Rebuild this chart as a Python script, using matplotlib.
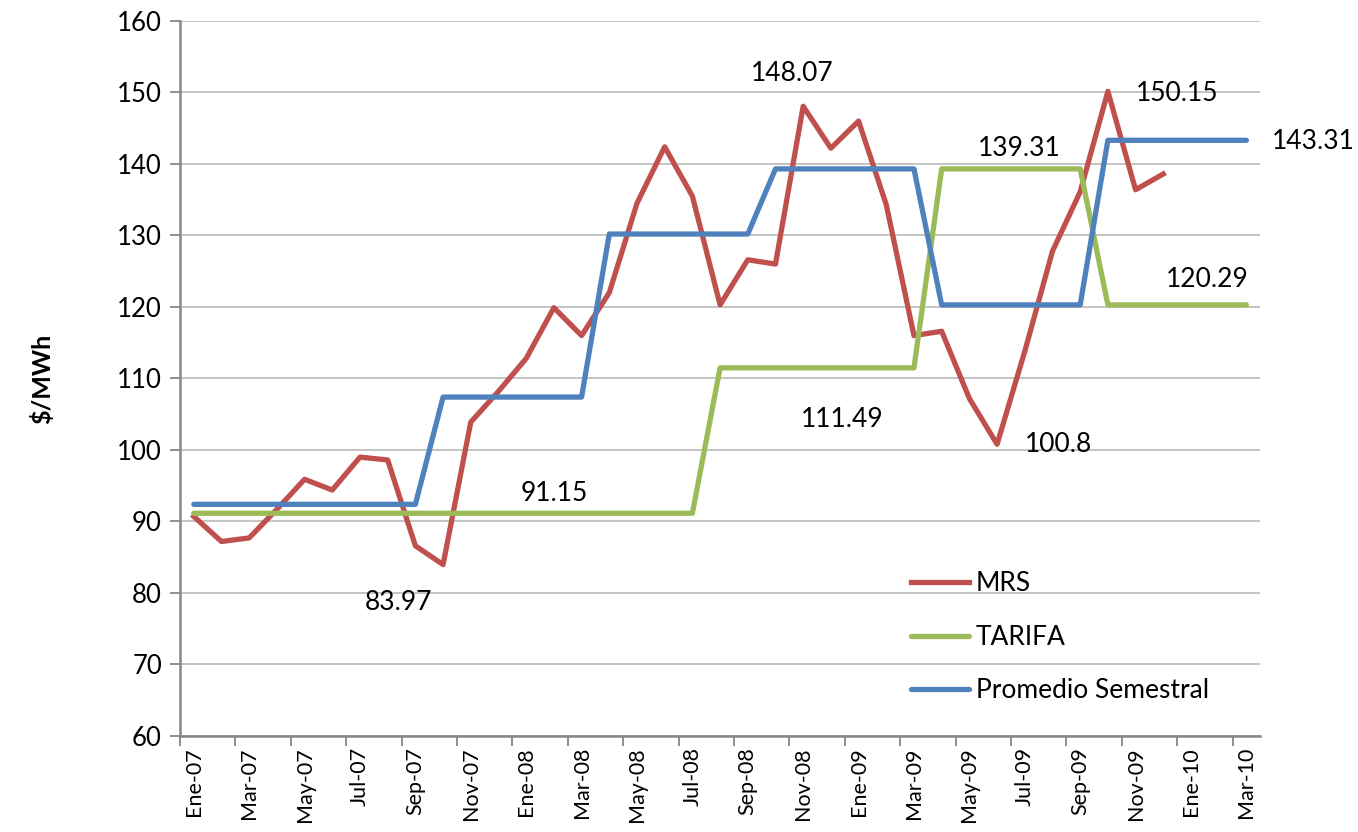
import matplotlib.pyplot as plt
import numpy as np

plt.rcParams['font.family'] = ['Lato', 'DejaVu Sans']

meses = ["Ene-07", "Feb-07", "Mar-07", "Abr-07", "May-07", "Jun-07", "Jul-07", "Ago-07",
         "Sep-07", "Oct-07", "Nov-07", "Dic-07", "Ene-08", "Feb-08", "Mar-08", "Abr-08",
         "May-08", "Jun-08", "Jul-08", "Ago-08", "Sep-08", "Oct-08", "Nov-08", "Dic-08",
         "Ene-09", "Feb-09", "Mar-09", "Abr-09", "May-09", "Jun-09", "Jul-09", "Ago-09",
         "Sep-09", "Oct-09", "Nov-09", "Dic-09", "Ene-10", "Feb-10", "Mar-10"]

mrs = [90.7, 87.2, 87.7, 91.7, 95.9, 94.4, 99.0, 98.6, 86.6, 83.97,
       103.9, 108.2, 112.8, 119.9, 116.0, 122.0, 134.5, 142.4, 135.5, 120.3,
       126.6, 126.0, 148.07, 142.2, 146.0, 134.3, 116.0, 116.6, 107.2, 100.8,
       113.8, 127.8, 136.1, 150.15, 136.4, 138.6]

tarifa = [91.15] * 19 + [111.49] * 8 + [139.31] * 6 + [120.29] * 6

promedio = [92.4] * 9 + [107.4] * 6 + [130.2] * 6 + [139.31] * 6 + [120.29] * 6 + [143.31] * 6

# etiquetas: (indice, valor, texto)
etiquetas = [(7.4, 78.6, "83.97"), (13.0, 93.85, "91.15"), (21.6, 152.7, "148.07"),
             (23.4, 104.2, "111.49"), (29.8, 142.2, "139.31"), (31.2, 100.8, "100.8"),
             (35.5, 149.9, "150.15"), (36.6, 123.8, "120.29"), (40.4, 143.1, "143.31")]

fig = plt.figure(figsize=(13.58, 8.32), dpi=100)
ax = fig.add_axes([0.1325, 0.1154, 0.7955, 0.8594])

x = np.arange(len(meses))
ax.plot(x[:len(mrs)], mrs, color="#C0504D", lw=3.8, label="MRS", solid_joinstyle="round")
ax.plot(x, tarifa, color="#9BBB59", lw=3.8, label="TARIFA", solid_capstyle="round")
ax.plot(x, promedio, color="#4F81BD", lw=3.8, label="Promedio Semestral", solid_capstyle="round")

for xi, yi, t in etiquetas:
    ax.text(xi, yi, t, ha="center", va="center", fontsize=19, clip_on=False)

ax.set_ylim(60, 160)
ax.set_yticks(range(60, 161, 10))
ax.set_xlim(-0.5, len(meses) - 0.5)
ax.set_xticks(x[::2])
ax.set_xticklabels(meses[::2], rotation=90, fontsize=15.5)
ax.set_xticks(np.arange(-0.5, len(meses), 2), minor=True)
ax.tick_params(axis="x", which="major", length=0, pad=8)
ax.tick_params(axis="x", which="minor", length=7, color="#868686", width=1.3)
ax.tick_params(axis="y", length=7, color="#868686", width=1.3, labelsize=18.5, pad=6)

ax.grid(axis="y", color="#BFBFBF", lw=1.3)
ax.set_axisbelow(True)
for s in ["top", "right"]:
    ax.spines[s].set_visible(False)
for s in ["left", "bottom"]:
    ax.spines[s].set_color("#868686")
    ax.spines[s].set_linewidth(1.8)

ax.set_ylabel("$/MWh", fontsize=18, fontweight="bold", labelpad=45)

ax.legend(loc="center left", bbox_to_anchor=(0.655, 0.138), frameon=False, fontsize=19,
          handlelength=2.2, labelspacing=1.08, handletextpad=0.25)

fig.savefig("out.png", dpi=100)
